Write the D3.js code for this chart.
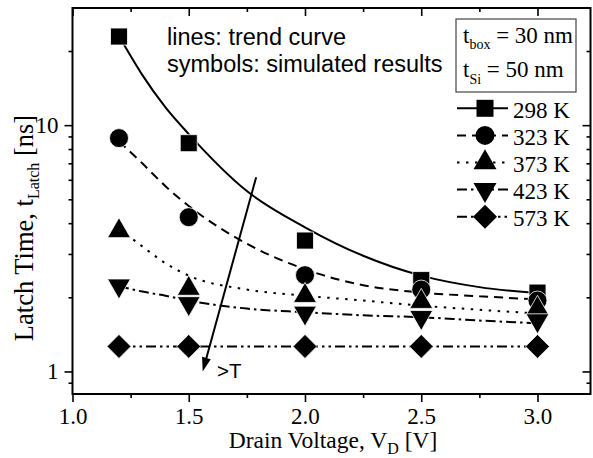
<!DOCTYPE html>
<html>
<head>
<meta charset="utf-8">
<title>Latch time vs drain voltage</title>
<script src="https://cdn.jsdelivr.net/npm/d3@7"></script>
<style>
  body { margin: 0; background: #fff; }
  svg { display: block; }
  .serif { font-family: "Liberation Serif", "Times New Roman", serif; }
  .sans { font-family: "Liberation Sans", Arial, sans-serif; }
</style>
</head>
<body>
<div id="chart"></div>
<script>
// simulated points
var voltages = [1.2, 1.5, 2.0, 2.5, 3.0];
var temps = ["298 K", "323 K", "373 K", "423 K", "573 K"];
var t298 = [22.9, 8.45, 3.40, 2.35, 2.09];
var t323 = [8.86, 4.23, 2.46, 2.15, 1.94];
var t373 = [3.72, 2.17, 2.03, 1.92, 1.80];
var t423 = [2.23, 1.89, 1.73, 1.66, 1.61];
var t573 = [1.264, 1.264, 1.264, 1.264, 1.264];

// trend curves
var trendV = [1.2, 1.3, 1.4, 1.5, 1.75, 2.0, 2.25, 2.5, 2.75, 3.0];
var fit298 = [23, 16, 11.8, 9.2, 5.4, 3.85, 2.95, 2.45, 2.2, 2.08];
var fit323 = [8.6, 7.0, 5.65, 4.7, 3.3, 2.6, 2.24, 2.09, 2.02, 1.96];
var fit373 = [3.8, 3.22, 2.75, 2.45, 2.15, 2.03, 1.94, 1.85, 1.78, 1.72];
var fit423 = [2.22, 2.11, 2.03, 1.94, 1.80, 1.74, 1.69, 1.66, 1.61, 1.57];
var fit573 = [1.264, 1.264, 1.264, 1.264, 1.264, 1.264, 1.264, 1.264, 1.264, 1.264];

var xTicks = [1.0, 1.5, 2.0, 2.5, 3.0];
var xMinor = [1.25, 1.75, 2.25, 2.75];
var yTicks = [1, 10];
var yMinor = [0.9, 2, 3, 4, 5, 6, 7, 8, 9, 20];

var points = [t298, t323, t373, t423, t573];
var fits = [fit298, fit323, fit373, fit423, fit573];
var shapes = ["square", "circle", "up", "down", "diamond"];
var dashes = [null, "9,6", "2.5,6.5", "10,4,2.5,4", "10,4,2.5,4,2.5,4"];

var width = 593, height = 458;
var pL = 72.5, pR = 590.5, pT = 8, pB = 394;

var svg = d3.select("#chart").append("svg")
    .attr("width", width).attr("height", height);

var x = d3.scaleLinear().domain([1.0, 3.228]).range([pL, pR]);
var y = d3.scaleLog().domain([0.81, 29.9]).range([pB, pT]);

function symbol(type){
  if(type == "square") return "M-8.5,-8.5h17v17h-17z";
  if(type == "circle") return "M9.5,0A9.5,9.5 0 1,1 -9.5,0A9.5,9.5 0 1,1 9.5,0z";
  if(type == "up") return "M0,-13.3L11.5,6.7L-11.5,6.7z";
  if(type == "down") return "M0,13.3L11.5,-6.7L-11.5,-6.7z";
  return "M0,-12L12,0L0,12L-12,0z";
}

// axes
function styleAxis(g){
  g.select(".domain").remove();
  g.selectAll("line").attr("stroke", "#000").attr("stroke-width", 1.6);
  g.selectAll("text").attr("class", "serif").attr("font-size", 23).attr("fill", "#000");
}

svg.append("g").attr("transform", "translate(0," + pB + ")")
  .call(d3.axisBottom(x).tickValues(xTicks).tickSize(8).tickPadding(6).tickFormat(d3.format(".1f")))
  .call(styleAxis);
svg.append("g").attr("transform", "translate(0," + pB + ")")
  .call(d3.axisBottom(x).tickValues(xMinor).tickSize(4).tickFormat(""))
  .call(styleAxis);
svg.append("g").attr("transform", "translate(0," + pT + ")")
  .call(d3.axisTop(x).tickValues(xTicks).tickSize(-8).tickFormat(""))
  .call(styleAxis);
svg.append("g").attr("transform", "translate(0," + pT + ")")
  .call(d3.axisTop(x).tickValues(xMinor).tickSize(-4).tickFormat(""))
  .call(styleAxis);

svg.append("g").attr("transform", "translate(" + pL + ",0)")
  .call(d3.axisLeft(y).tickValues(yTicks).tickSize(8).tickPadding(6).tickFormat(d3.format("d")))
  .call(styleAxis);
svg.append("g").attr("transform", "translate(" + pL + ",0)")
  .call(d3.axisLeft(y).tickValues(yMinor).tickSize(4).tickFormat(""))
  .call(styleAxis);
svg.append("g").attr("transform", "translate(" + pR + ",0)")
  .call(d3.axisRight(y).tickValues(yTicks).tickSize(-8).tickFormat(""))
  .call(styleAxis);
svg.append("g").attr("transform", "translate(" + pR + ",0)")
  .call(d3.axisRight(y).tickValues(yMinor).tickSize(-4).tickFormat(""))
  .call(styleAxis);

svg.append("rect")
  .attr("x", pL).attr("y", pT)
  .attr("width", pR - pL).attr("height", pB - pT)
  .attr("fill", "none").attr("stroke", "#000").attr("stroke-width", 2);

// trend curves
var line = d3.line()
  .x(function(d){ return x(d[0]); })
  .y(function(d){ return y(d[1]); })
  .curve(d3.curveMonotoneX);

fits.forEach(function(f, i){
  svg.append("path")
    .datum(trendV.map(function(v, j){ return [v, f[j]]; }))
    .attr("d", line)
    .attr("fill", "none")
    .attr("stroke", "#000")
    .attr("stroke-width", 2)
    .attr("stroke-dasharray", dashes[i]);
});

// symbols
points.forEach(function(p, i){
  svg.append("g").selectAll("path")
    .data(voltages.map(function(v, j){ return [v, p[j]]; }))
    .enter().append("path")
      .attr("transform", function(d){ return "translate(" + x(d[0]) + "," + y(d[1]) + ")"; })
      .attr("d", symbol(shapes[i]))
      .attr("fill", "#000")
      .attr("stroke", "#fff")
      .attr("stroke-width", 0.8);
});

// arrow >T
var arrowFrom = [1.79, 6.15], arrowTo = [1.56, 1.0];
var ax0 = x(arrowFrom[0]), ay0 = y(arrowFrom[1]), ax1 = x(arrowTo[0]), ay1 = y(arrowTo[1]);
var ang = Math.atan2(ay1 - ay0, ax1 - ax0);
svg.append("line")
  .attr("x1", ax0).attr("y1", ay0)
  .attr("x2", ax1 - 8 * Math.cos(ang)).attr("y2", ay1 - 8 * Math.sin(ang))
  .attr("stroke", "#000").attr("stroke-width", 2);
svg.append("path")
  .attr("transform", "translate(" + ax1 + "," + ay1 + ") rotate(" + (ang * 180 / Math.PI) + ")")
  .attr("d", "M0,0L-14,-4.5L-14,4.5z")
  .attr("fill", "#000");
svg.append("text").attr("class", "sans")
  .attr("x", 217).attr("y", 378)
  .attr("font-size", 20.5)
  .text(">T");

// notes
svg.append("text").attr("class", "sans").attr("font-size", 23.5)
  .attr("x", 167).attr("y", 45).text("lines: trend curve");
svg.append("text").attr("class", "sans").attr("font-size", 23.5)
  .attr("x", 167).attr("y", 72).text("symbols: simulated results");

// parameter box
svg.append("rect")
  .attr("x", 456).attr("y", 19).attr("width", 120).attr("height", 73)
  .attr("fill", "#fff").attr("stroke", "#444").attr("stroke-width", 1.2);
var box1 = svg.append("text").attr("class", "serif").attr("font-size", 23).attr("x", 463).attr("y", 43);
box1.append("tspan").text("t");
box1.append("tspan").attr("font-size", 14).attr("dy", 6).text("box");
box1.append("tspan").attr("dy", -6).text(" = 30 nm");
var box2 = svg.append("text").attr("class", "serif").attr("font-size", 23).attr("x", 463).attr("y", 77);
box2.append("tspan").text("t");
box2.append("tspan").attr("font-size", 14).attr("dy", 7).text("Si");
box2.append("tspan").attr("dy", -7).text(" = 50 nm");

// legend
var legend = svg.append("g");
temps.forEach(function(t, i){
  var ry = 108.3 + i * 27.1;
  legend.append("line")
    .attr("x1", 457).attr("x2", 508).attr("y1", ry).attr("y2", ry)
    .attr("stroke", "#000").attr("stroke-width", 2)
    .attr("stroke-dasharray", dashes[i]);
  legend.append("path")
    .attr("transform", "translate(485," + ry + ")")
    .attr("d", symbol(shapes[i]))
    .attr("fill", "#000");
  legend.append("text").attr("class", "serif").attr("font-size", 23)
    .attr("x", 513).attr("y", ry + 9.7).text(t);
});

// axis titles
var xl = svg.append("text").attr("class", "serif").attr("font-size", 23.5)
  .attr("x", 333).attr("y", 448).attr("text-anchor", "middle");
xl.append("tspan").text("Drain Voltage, V");
xl.append("tspan").attr("font-size", 16).attr("dy", 6).text("D");
xl.append("tspan").attr("dy", -6).text(" [V]");

var yl = svg.append("text").attr("class", "serif").attr("font-size", 26.5)
  .attr("transform", "translate(33,228) rotate(-90)")
  .attr("text-anchor", "middle");
yl.append("tspan").text("Latch Time, t");
yl.append("tspan").attr("font-size", 16).attr("dy", 6).text("Latch");
yl.append("tspan").attr("dy", -6).text(" [ns]");
</script>
</body>
</html>
